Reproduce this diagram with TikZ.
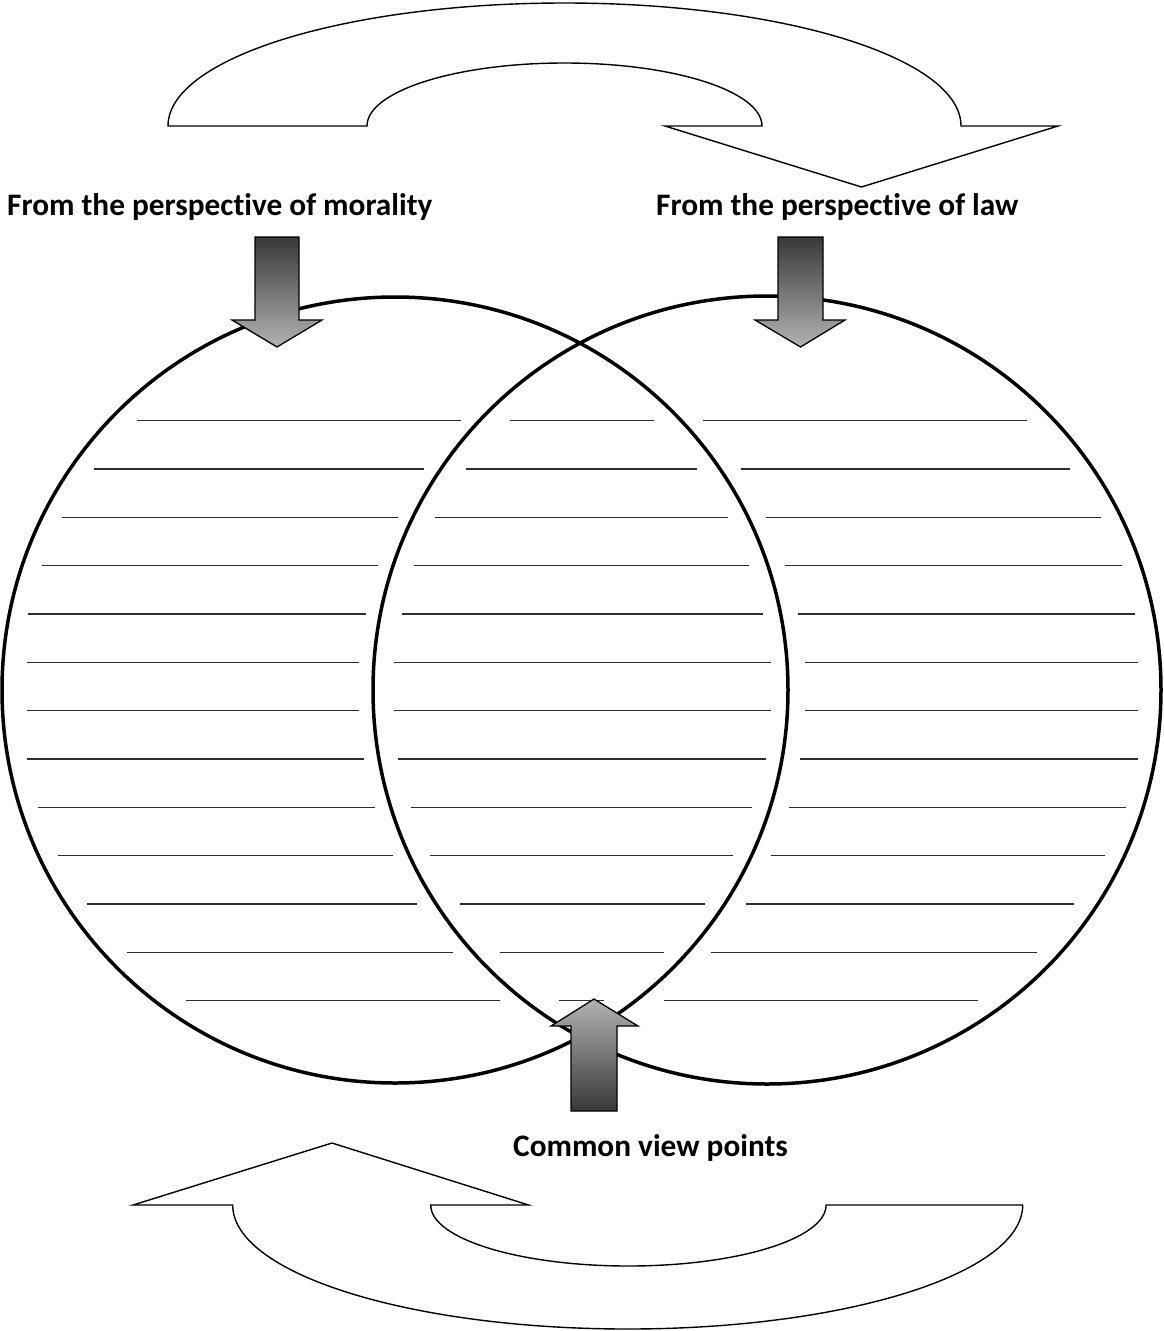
\documentclass[tikz,border=0pt]{standalone}
\usepackage{fontspec}
\setmainfont{Carlito}[Ligatures=NoCommon]
\begin{document}
\begin{tikzpicture}[x=1pt,y=1pt,
  circ/.style={line width=3.5pt,black},
  rule/.style={line width=1.8pt,black!82},
  bigarrow/.style={line width=1.4pt,fill=white,line join=miter},
  downarrow/.style={draw=black,line width=1.3pt,top color=black!78,bottom color=black!30},
  uparrow/.style={draw=black,line width=1.3pt,top color=black!30,bottom color=black!78},
  lbl/.style={font=\fontsize{31.3}{37}\selectfont\bfseries,inner sep=0pt,anchor=base west}]
\useasboundingbox (0,0) rectangle (1164,-1331);

% top curved arrow
\draw[bigarrow] (168,-126) coordinate (ta) -- (367,-126)
  arc[start angle=180,end angle=0,x radius=197.5,y radius=63]
  -- (665,-126) -- (861.5,-187) coordinate (ttip) -- (1058,-126) -- (961,-126)
  arc[start angle=0,end angle=180,x radius=396.5,y radius=123] -- cycle;

% bottom curved arrow
\draw[bigarrow] (133,-1205) -- (332,-1143) coordinate (btip) -- (528.6,-1205) -- (430.7,-1205)
  arc[start angle=180,end angle=360,x radius=197.7,y radius=61]
  -- (1022.7,-1205)
  arc[start angle=0,end angle=-180,x radius=395,y radius=124] -- cycle;

% writing lines
\foreach \yy/\a/\b/\c/\d/\e/\f in {
  420.5/137/461/510/654/703/1027,
  469/93.5/423.5/466/697/741/1070,
  517.5/62/397.5/435/728/766/1101,
  565.5/41.6/378/414/749/785/1122,
  614/28/365.6/401.6/763/798/1135,
  662.5/27/358.6/393.5/770.6/804.7/1138,
  710.5/27/358.6/393.5/770.6/804.7/1138,
  759/27/363.8/398.3/765.7/800/1138,
  807.5/38/375/411/752/788.8/1125.8,
  855.5/57.5/392.7/430/733.4/770.6/1105.4,
  904/86.5/416.9/459.5/704.5/746.4/1073.8,
  952.5/127.3/452.9/500/663.7/710.8/1036.7,
  1000.5/186/500/559/604/664/978}{
  \draw[rule] (\a,-\yy) -- (\b,-\yy);
  \draw[rule] (\c,-\yy) -- (\d,-\yy);
  \draw[rule] (\e,-\yy) -- (\f,-\yy);
}

% circles
\draw[circ] (395,-690) circle[radius=393];
\draw[circ] (767,-690) circle[radius=394];

% labels
\node[lbl] (morality) at (7,-215) {From the perspective of morality};
\node[lbl] (law) at (656,-215) {From the perspective of law};
\node[lbl] (common) at (513,-1156) {Common view points};

% shaded block arrows
\path[downarrow] (255,-237) -- (299,-237) -- (299,-320) -- (322,-320) -- (277,-347)
  -- (232,-320) -- (255,-320) -- cycle;
\path[downarrow] (778,-237) -- (823,-237) -- (823,-320) -- (845,-320) -- (800.5,-347)
  -- (755,-320) -- (778,-320) -- cycle;
\path[uparrow] (571,-1111) -- (617,-1111) -- (617,-1026) -- (638,-1026) -- (594,-999)
  -- (551,-1026) -- (571,-1026) -- cycle;
\end{tikzpicture}
\end{document}
